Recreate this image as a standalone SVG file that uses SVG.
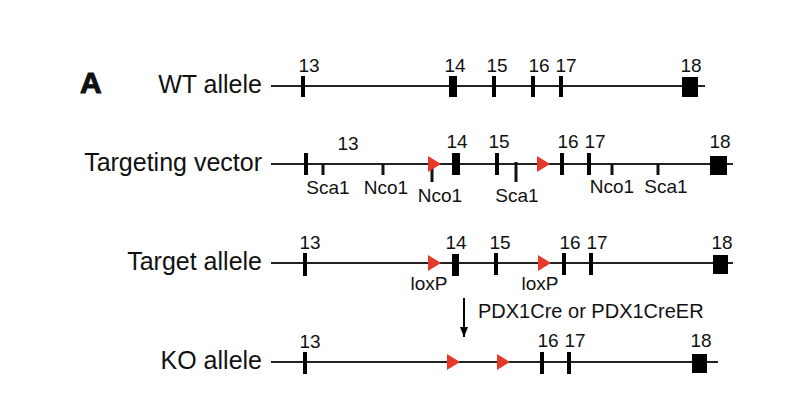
<svg xmlns="http://www.w3.org/2000/svg" width="800" height="412" viewBox="0 0 800 412">
<style>
text{font-family:"Liberation Sans",Arial,Helvetica,sans-serif;fill:#111}
.big{font-size:25px}
.sm{font-size:19px;text-anchor:middle}
.ln{stroke:#222;stroke-width:2;fill:none}
.ex{fill:#000}
.tk{stroke:#111;stroke-width:3}
.lox{fill:#e5392a}
</style>
<defs>
<marker id="ah" viewBox="0 0 10 8" refX="10" refY="4" markerWidth="11" markerHeight="8" markerUnits="userSpaceOnUse" orient="auto">
<path d="M0,0 L10,4 L0,8 Z" fill="#000"/>
</marker>
</defs>
<rect width="800" height="412" fill="#fff"/>
<text x="80" y="93" style="font-size:30px;font-weight:bold;stroke:#111;stroke-width:1">A</text>

<g id="wt">
<text class="big" x="262" y="93" text-anchor="end">WT allele</text>
<line class="ln" x1="271" y1="86" x2="705" y2="86"/>
<rect class="ex" x="301" y="76" width="4" height="21"/>
<rect class="ex" x="449" y="76" width="8" height="21"/>
<rect class="ex" x="492" y="76" width="4" height="21"/>
<rect class="ex" x="531" y="76" width="4" height="21"/>
<rect class="ex" x="559" y="76" width="4" height="21"/>
<rect class="ex" x="682" y="77" width="16" height="20"/>
<text class="sm" x="309" y="72">13</text>
<text class="sm" x="455" y="72">14</text>
<text class="sm" x="497" y="72">15</text>
<text class="sm" x="539" y="72">16</text>
<text class="sm" x="566" y="72">17</text>
<text class="sm" x="691" y="72">18</text>
</g>

<g id="tv">
<text class="big" x="262" y="171" text-anchor="end">Targeting vector</text>
<line class="ln" x1="271" y1="164" x2="733" y2="164"/>
<rect class="ex" x="304" y="153" width="4" height="22"/>
<line class="tk" x1="323" y1="164" x2="323" y2="175"/>
<line class="tk" x1="383" y1="164" x2="383" y2="175"/>
<line class="tk" x1="432" y1="164" x2="432" y2="182"/>
<path class="lox" d="M428,156 L441,164 L428,172 Z"/>
<rect class="ex" x="452" y="153" width="8" height="22"/>
<rect class="ex" x="495" y="153" width="4" height="22"/>
<line class="tk" x1="516" y1="162" x2="516" y2="182"/>
<path class="lox" d="M537,156 L550,164 L537,172 Z"/>
<rect class="ex" x="560" y="153" width="4" height="22"/>
<rect class="ex" x="587" y="153" width="4" height="22"/>
<line class="tk" x1="612" y1="164" x2="612" y2="175"/>
<line class="tk" x1="658" y1="164" x2="658" y2="175"/>
<rect class="ex" x="710" y="156" width="17" height="19"/>
<text class="sm" x="348" y="150">13</text>
<text class="sm" x="457" y="148">14</text>
<text class="sm" x="499" y="148">15</text>
<text class="sm" x="568" y="148">16</text>
<text class="sm" x="595" y="148">17</text>
<text class="sm" x="720" y="148">18</text>
<text class="sm" x="328" y="194">Sca1</text>
<text class="sm" x="386" y="194">Nco1</text>
<text class="sm" x="440" y="202">Nco1</text>
<text class="sm" x="517" y="202">Sca1</text>
<text class="sm" x="612" y="193">Nco1</text>
<text class="sm" x="666" y="193">Sca1</text>
</g>

<g id="ta">
<text class="big" x="262" y="270" text-anchor="end">Target allele</text>
<line class="ln" x1="271" y1="263" x2="733" y2="263"/>
<rect class="ex" x="303" y="253" width="4" height="23"/>
<path class="lox" d="M428,255 L441,263 L428,271 Z"/>
<rect class="ex" x="452" y="254" width="7" height="22"/>
<rect class="ex" x="494" y="253" width="4" height="22"/>
<path class="lox" d="M538,255 L551,263 L538,271 Z"/>
<rect class="ex" x="562" y="253" width="4" height="22"/>
<rect class="ex" x="589" y="253" width="4" height="22"/>
<rect class="ex" x="713" y="255" width="15" height="19"/>
<text class="sm" x="310" y="249">13</text>
<text class="sm" x="456" y="249">14</text>
<text class="sm" x="500" y="249">15</text>
<text class="sm" x="570" y="249">16</text>
<text class="sm" x="597" y="249">17</text>
<text class="sm" x="722" y="249">18</text>
<text class="sm" x="429" y="290">loxP</text>
<text class="sm" x="540" y="290">loxP</text>
</g>

<g id="connectors">
<line stroke="#000" stroke-width="2" x1="464" y1="298" x2="464" y2="337" marker-end="url(#ah)"/>
<text x="478" y="318" style="font-size:20px">PDX1Cre or PDX1CreER</text>
</g>

<g id="ko">
<text class="big" x="262" y="369" text-anchor="end">KO allele</text>
<line class="ln" x1="271" y1="362" x2="718" y2="362"/>
<rect class="ex" x="303" y="352" width="4" height="22"/>
<path class="lox" d="M447,354 L460,362 L447,370 Z"/>
<path class="lox" d="M497,354 L510,362 L497,370 Z"/>
<rect class="ex" x="540" y="352" width="4" height="22"/>
<rect class="ex" x="567" y="352" width="4" height="22"/>
<rect class="ex" x="692" y="354" width="15" height="19"/>
<text class="sm" x="310" y="348">13</text>
<text class="sm" x="548" y="347">16</text>
<text class="sm" x="575" y="347">17</text>
<text class="sm" x="701" y="347">18</text>
</g>
</svg>
